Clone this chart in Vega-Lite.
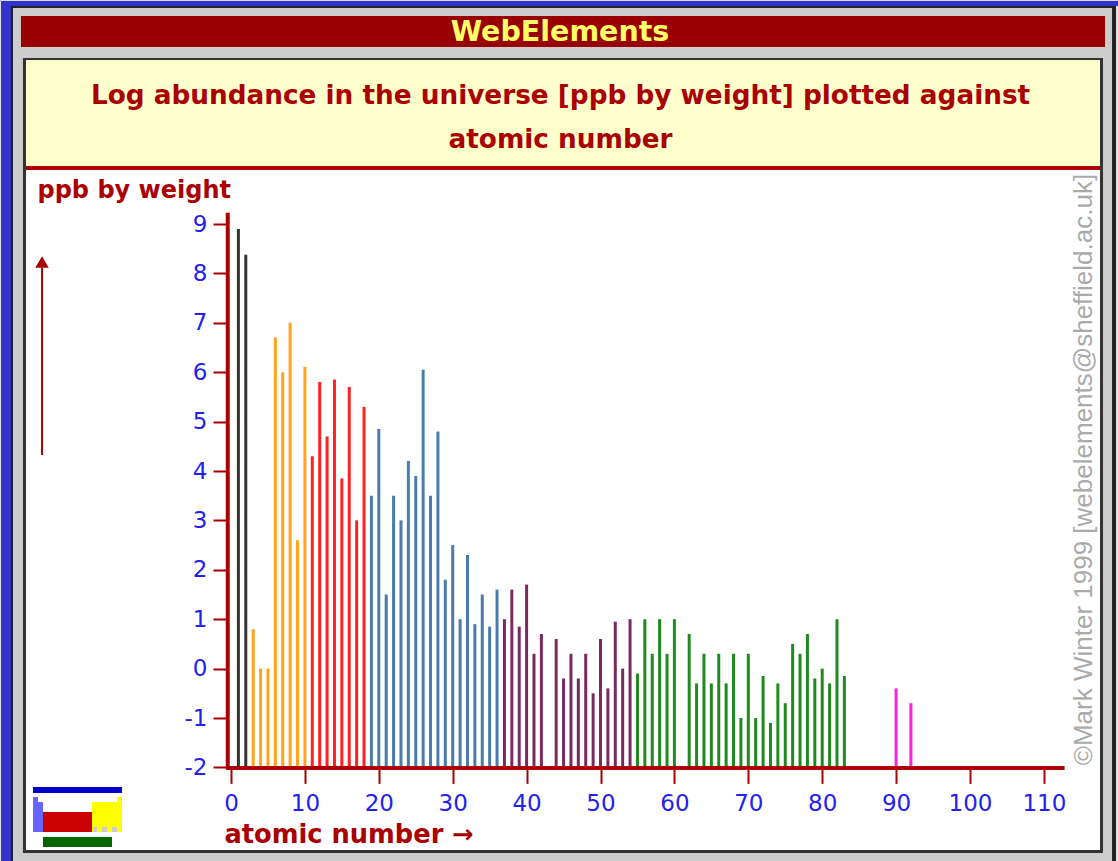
{"$schema":"https://vega.github.io/schema/vega-lite/v6.json","width":1118,"height":861,"padding":0,"autosize":"none","background":"#3333cc",
"title":{"text":["Log abundance in the universe [ppb by weight] plotted against","atomic number"],"anchor":"middle","frame":"group","orient":"top","baseline":"alphabetic","offset":-174,"dx":1.5,"lineHeight":44,"font":"DejaVu Sans","fontWeight":"bold","fontSize":26.3,"color":"#aa0000"},
"layer":[
{"data":{"values":[{"part":"frame"}]},"mark":{"type":"rect","color":"#e8e8e8"},"encoding":{"x":{"datum":119.76},"x2":{"datum":120.03},"y":{"datum":13.413},"y2":{"datum":-3.8947}}},
{"data":{"values":[{"part":"outer edge"}]},"mark":{"type":"rect","color":"#222222"},"encoding":{"x":{"datum":-29.77},"x2":{"datum":119.76},"y":{"datum":13.413},"y2":{"datum":-3.8947}}},
{"data":{"values":[{"part":"panel"}]},"mark":{"type":"rect","color":"#cccccc"},"encoding":{"x":{"datum":-29.5},"x2":{"datum":119.22},"y":{"datum":13.373},"y2":{"datum":-3.8947}}},
{"data":{"values":[{"part":"header"}]},"mark":{"type":"rect","color":"#990000"},"encoding":{"x":{"datum":-28.42},"x2":{"datum":118.27},"y":{"datum":13.21},"y2":{"datum":12.583}}},
{"data":{"values":[{"part":"inner edge"}]},"mark":{"type":"rect","color":"#333333"},"encoding":{"x":{"datum":-28.15},"x2":{"datum":118.0},"y":{"datum":12.36},"y2":{"datum":-3.733}}},
{"data":{"values":[{"part":"plot"}]},"mark":{"type":"rect","color":"#ffffff"},"encoding":{"x":{"datum":-27.74},"x2":{"datum":117.59},"y":{"datum":12.32},"y2":{"datum":-3.672}}},
{"data":{"values":[{"part":"title band"}]},"mark":{"type":"rect","color":"#ffffcc"},"encoding":{"x":{"datum":-27.74},"x2":{"datum":117.59},"y":{"datum":12.32},"y2":{"datum":10.174}}},
{"data":{"values":[{"part":"title rule"}]},"mark":{"type":"rect","color":"#aa0000"},"encoding":{"x":{"datum":-27.74},"x2":{"datum":117.59},"y":{"datum":10.174},"y2":{"datum":10.093}}},
{"data":{"values":[{"label":"WebElements"}]},"mark":{"type":"text","font":"DejaVu Sans","fontWeight":"bold","fontSize":28.5,"color":"#ffff66","align":"center","baseline":"middle"},"encoding":{"x":{"datum":44.52},"y":{"datum":12.887},"text":{"field":"label"}}},
{"data":{"values":[{"label":"©Mark Winter 1999 [webelements@sheffield.ac.uk]"}]},"mark":{"type":"text","font":"Liberation Sans","fontSize":26,"color":"#aaaaaa","align":"center","baseline":"middle","angle":270},"encoding":{"x":{"datum":115.42},"y":{"datum":4.03},"text":{"field":"label"}}},
{"data":{"values":[{"part":"arrow shaft"}]},"mark":{"type":"rule","color":"#aa0000","strokeWidth":2},"encoding":{"x":{"datum":-25.57},"y":{"datum":4.324},"y2":{"datum":8.11}}},
{"data":{"values":[{"part":"arrow head"}]},"mark":{"type":"point","shape":"triangle-up","filled":true,"opacity":1,"size":180,"color":"#aa0000"},"encoding":{"x":{"datum":-25.57},"y":{"datum":8.23}}},
{"data":{"values":[{"part":"icon bar"}]},"mark":{"type":"rect","color":"#0000cc"},"encoding":{"x":{"datum":-26.79},"x2":{"datum":-14.75},"y":{"datum":-2.397},"y2":{"datum":-2.518}}},
{"data":{"values":[{"part":"icon s1"}]},"mark":{"type":"rect","color":"#6666ff"},"encoding":{"x":{"datum":-26.79},"x2":{"datum":-26.12},"y":{"datum":-2.599},"y2":{"datum":-3.308}}},
{"data":{"values":[{"part":"icon s2"}]},"mark":{"type":"rect","color":"#6666ff"},"encoding":{"x":{"datum":-26.12},"x2":{"datum":-25.44},"y":{"datum":-2.701},"y2":{"datum":-3.308}}},
{"data":{"values":[{"part":"icon d"}]},"mark":{"type":"rect","color":"#cc0000"},"encoding":{"x":{"datum":-25.44},"x2":{"datum":-18.81},"y":{"datum":-2.903},"y2":{"datum":-3.308}}},
{"data":{"values":[{"part":"icon p1"}]},"mark":{"type":"rect","color":"#ffff00"},"encoding":{"x":{"datum":-18.81},"x2":{"datum":-15.43},"y":{"datum":-2.701},"y2":{"datum":-3.308}}},
{"data":{"values":[{"part":"icon p2"}]},"mark":{"type":"rect","color":"#ffff00"},"encoding":{"x":{"datum":-15.43},"x2":{"datum":-14.75},"y":{"datum":-2.599},"y2":{"datum":-3.308}}},
{"data":{"values":[{"part":"icon notch 1"}]},"mark":{"type":"rect","color":"#cccccc"},"encoding":{"x":{"datum":-18.67},"x2":{"datum":-18.13},"y":{"datum":-3.207},"y2":{"datum":-3.308}}},
{"data":{"values":[{"part":"icon notch 2"}]},"mark":{"type":"rect","color":"#cccccc"},"encoding":{"x":{"datum":-17.46},"x2":{"datum":-16.78},"y":{"datum":-3.207},"y2":{"datum":-3.308}}},
{"data":{"values":[{"part":"icon notch 3"}]},"mark":{"type":"rect","color":"#cccccc"},"encoding":{"x":{"datum":-16.1},"x2":{"datum":-15.43},"y":{"datum":-3.207},"y2":{"datum":-3.308}}},
{"data":{"values":[{"part":"icon f"}]},"mark":{"type":"rect","color":"#006600"},"encoding":{"x":{"datum":-25.44},"x2":{"datum":-16.1},"y":{"datum":-3.409},"y2":{"datum":-3.611}}},
{"data":{"values":[
{"atomic_number":1,"log_abundance":8.9,"period":"1"},{"atomic_number":2,"log_abundance":8.38,"period":"1"},
{"atomic_number":3,"log_abundance":0.8,"period":"2"},{"atomic_number":4,"log_abundance":0,"period":"2"},{"atomic_number":5,"log_abundance":0,"period":"2"},{"atomic_number":6,"log_abundance":6.7,"period":"2"},{"atomic_number":7,"log_abundance":6,"period":"2"},{"atomic_number":8,"log_abundance":7,"period":"2"},{"atomic_number":9,"log_abundance":2.6,"period":"2"},{"atomic_number":10,"log_abundance":6.11,"period":"2"},
{"atomic_number":11,"log_abundance":4.3,"period":"3"},{"atomic_number":12,"log_abundance":5.8,"period":"3"},{"atomic_number":13,"log_abundance":4.7,"period":"3"},{"atomic_number":14,"log_abundance":5.85,"period":"3"},{"atomic_number":15,"log_abundance":3.85,"period":"3"},{"atomic_number":16,"log_abundance":5.7,"period":"3"},{"atomic_number":17,"log_abundance":3,"period":"3"},{"atomic_number":18,"log_abundance":5.3,"period":"3"},
{"atomic_number":19,"log_abundance":3.5,"period":"4"},{"atomic_number":20,"log_abundance":4.85,"period":"4"},{"atomic_number":21,"log_abundance":1.5,"period":"4"},{"atomic_number":22,"log_abundance":3.5,"period":"4"},{"atomic_number":23,"log_abundance":3,"period":"4"},{"atomic_number":24,"log_abundance":4.2,"period":"4"},{"atomic_number":25,"log_abundance":3.9,"period":"4"},{"atomic_number":26,"log_abundance":6.05,"period":"4"},{"atomic_number":27,"log_abundance":3.5,"period":"4"},{"atomic_number":28,"log_abundance":4.8,"period":"4"},{"atomic_number":29,"log_abundance":1.8,"period":"4"},{"atomic_number":30,"log_abundance":2.5,"period":"4"},{"atomic_number":31,"log_abundance":1,"period":"4"},{"atomic_number":32,"log_abundance":2.3,"period":"4"},{"atomic_number":33,"log_abundance":0.9,"period":"4"},{"atomic_number":34,"log_abundance":1.5,"period":"4"},{"atomic_number":35,"log_abundance":0.85,"period":"4"},{"atomic_number":36,"log_abundance":1.6,"period":"4"},
{"atomic_number":37,"log_abundance":1,"period":"5"},{"atomic_number":38,"log_abundance":1.6,"period":"5"},{"atomic_number":39,"log_abundance":0.85,"period":"5"},{"atomic_number":40,"log_abundance":1.7,"period":"5"},{"atomic_number":41,"log_abundance":0.3,"period":"5"},{"atomic_number":42,"log_abundance":0.7,"period":"5"},{"atomic_number":44,"log_abundance":0.6,"period":"5"},{"atomic_number":45,"log_abundance":-0.2,"period":"5"},{"atomic_number":46,"log_abundance":0.3,"period":"5"},{"atomic_number":47,"log_abundance":-0.2,"period":"5"},{"atomic_number":48,"log_abundance":0.3,"period":"5"},{"atomic_number":49,"log_abundance":-0.5,"period":"5"},{"atomic_number":50,"log_abundance":0.6,"period":"5"},{"atomic_number":51,"log_abundance":-0.4,"period":"5"},{"atomic_number":52,"log_abundance":0.95,"period":"5"},{"atomic_number":53,"log_abundance":0,"period":"5"},{"atomic_number":54,"log_abundance":1,"period":"5"},
{"atomic_number":55,"log_abundance":-0.1,"period":"6"},{"atomic_number":56,"log_abundance":1,"period":"6"},{"atomic_number":57,"log_abundance":0.3,"period":"6"},{"atomic_number":58,"log_abundance":1,"period":"6"},{"atomic_number":59,"log_abundance":0.3,"period":"6"},{"atomic_number":60,"log_abundance":1,"period":"6"},{"atomic_number":62,"log_abundance":0.7,"period":"6"},{"atomic_number":63,"log_abundance":-0.3,"period":"6"},{"atomic_number":64,"log_abundance":0.3,"period":"6"},{"atomic_number":65,"log_abundance":-0.3,"period":"6"},{"atomic_number":66,"log_abundance":0.3,"period":"6"},{"atomic_number":67,"log_abundance":-0.3,"period":"6"},{"atomic_number":68,"log_abundance":0.3,"period":"6"},{"atomic_number":69,"log_abundance":-1,"period":"6"},{"atomic_number":70,"log_abundance":0.3,"period":"6"},{"atomic_number":71,"log_abundance":-1,"period":"6"},{"atomic_number":72,"log_abundance":-0.15,"period":"6"},{"atomic_number":73,"log_abundance":-1.1,"period":"6"},{"atomic_number":74,"log_abundance":-0.3,"period":"6"},{"atomic_number":75,"log_abundance":-0.7,"period":"6"},{"atomic_number":76,"log_abundance":0.5,"period":"6"},{"atomic_number":77,"log_abundance":0.3,"period":"6"},{"atomic_number":78,"log_abundance":0.7,"period":"6"},{"atomic_number":79,"log_abundance":-0.2,"period":"6"},{"atomic_number":80,"log_abundance":0,"period":"6"},{"atomic_number":81,"log_abundance":-0.3,"period":"6"},{"atomic_number":82,"log_abundance":1,"period":"6"},{"atomic_number":83,"log_abundance":-0.15,"period":"6"},
{"atomic_number":90,"log_abundance":-0.4,"period":"7"},{"atomic_number":92,"log_abundance":-0.7,"period":"7"}
]},"mark":{"type":"rule","strokeWidth":3},"encoding":{
"x":{"field":"atomic_number","type":"quantitative","scale":{"domain":[-31.2585,120.0271],"nice":false,"zero":false},"axis":{"values":[0,10,20,30,40,50,60,70,80,90,100,110],"orient":"bottom","offset":-93.6,"domain":false,"grid":false,"zindex":1,"tickSize":16,"tickWidth":2,"tickColor":"#aa0000","labelFont":"DejaVu Sans","labelFontSize":23,"labelColor":"#2222ee","labelPadding":9,"labelFlush":false,"labelOverlap":false,"title":"atomic number →","titleFont":"DejaVu Sans","titleFontWeight":"bold","titleFontSize":25.7,"titleColor":"#aa0000","titleAlign":"left","titleAnchor":"start","titleBaseline":"alphabetic","titleX":224,"titleY":75}},
"y":{"field":"log_abundance","type":"quantitative","scale":{"domain":[-3.8947,13.5344],"nice":false,"zero":false},"axis":{"values":[-2,-1,0,1,2,3,4,5,6,7,8,9],"labelExpr":"'' + datum.value","orient":"left","offset":-228,"domain":false,"grid":false,"zindex":1,"tickSize":15,"tickWidth":2,"tickColor":"#aa0000","labelFont":"DejaVu Sans","labelFontSize":23,"labelColor":"#2222ee","labelPadding":6,"labelFlush":false,"labelOverlap":false,"title":"ppb by weight","titleFont":"DejaVu Sans","titleFontWeight":"bold","titleFontSize":24,"titleColor":"#aa0000","titleAngle":0,"titleAlign":"left","titleAnchor":"start","titleBaseline":"alphabetic","titleX":-191,"titleY":197}},
"y2":{"datum":-2},
"color":{"field":"period","type":"nominal","scale":{"domain":["1","2","3","4","5","6","7"],"range":["#333333","#ffa31a","#ff2020","#4a7cab","#7a2a5e","#1f8a1f","#ff22dd"]},"legend":null}
}},
{"data":{"values":[{"part":"y axis line"}]},"mark":{"type":"rule","color":"#aa0000","strokeWidth":4},"encoding":{"x":{"datum":-0.44},"y":{"datum":-2.04},"y2":{"datum":9.23}}},
{"data":{"values":[{"part":"x axis line"}]},"mark":{"type":"rule","color":"#aa0000","strokeWidth":4},"encoding":{"y":{"datum":-2.01},"x":{"datum":-0.6},"x2":{"datum":112.8}}}
]}
